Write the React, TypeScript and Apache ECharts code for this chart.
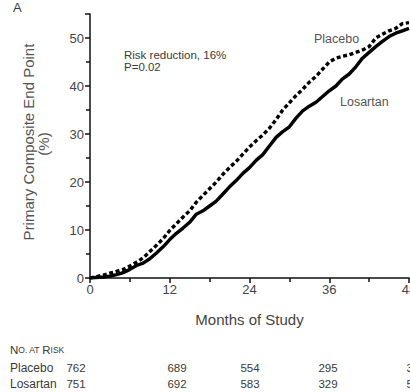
import React, { useEffect, useRef } from "react";
import * as echarts from "echarts";

const months: number[] = [
  0, 1, 2, 3, 4, 5, 6, 7, 8, 9, 10, 11, 12, 13, 14, 15, 16, 17, 18, 19, 20, 21, 22, 23, 24,
  25, 26, 27, 28, 29, 30, 31, 32, 33, 34, 35, 36, 37, 38, 39, 40, 41, 42, 43, 44, 45, 46, 47, 48,
];
const placebo: number[] = [
  0, 0.3, 0.6, 1.0, 1.4, 1.8, 2.5, 3.3, 4.2, 5.5, 6.8, 8.2, 9.9, 11.3, 12.7, 14.0, 15.8, 17.2,
  18.6, 20.0, 21.6, 23.0, 24.3, 25.8, 27.3, 28.6, 29.8, 31.2, 33.0, 35.0, 36.5, 38.0, 39.3,
  40.8, 42.0, 43.5, 45.0, 45.8, 46.2, 46.5, 47.0, 47.5, 48.2, 50.0, 50.8, 51.5, 52.0, 53.0, 53.2,
];
const losartan: number[] = [
  0, 0.1, 0.2, 0.4, 0.7, 1.1, 1.8, 2.6, 3.1, 4.0, 5.2, 6.5, 8.0, 9.3, 10.4, 11.6, 13.3, 14.0,
  15.0, 16.0, 17.5, 19.0, 20.3, 21.8, 23.0, 24.5, 25.7, 27.5, 29.3, 30.5, 31.5, 33.3, 34.8,
  35.8, 36.6, 37.8, 39.0, 40.0, 41.5, 42.5, 44.0, 45.8, 47.0, 48.2, 49.3, 50.3, 51.0, 51.5, 52.0,
];
const riskNames: string[] = ["Placebo", "Losartan"];
const riskPlacebo: string[] = ["762", "689", "554", "295", "36"];
const riskLosartan: string[] = ["751", "692", "583", "329", "52"];
const riskColumnsX: number[] = [76, 177, 250, 328, 413];

const FONT = "'Liberation Sans', Arial, Helvetica, sans-serif";
const TXT = "#3a3a3a";

export default function App() {
  const ref = useRef<HTMLDivElement>(null);
  useEffect(() => {
    if (!ref.current) return;
    const chart = echarts.init(ref.current, null, { renderer: "svg" });
    const graphics: any[] = [
      { type: "text", left: 13, top: 1, style: { text: "A", font: `13px ${FONT}`, fill: TXT } },
      {
        type: "text",
        x: 28,
        y: 142,
        rotation: Math.PI / 2,
        style: {
          text: "Primary Composite End Point",
          font: `15px ${FONT}`,
          fill: "#555",
          textAlign: "center",
          textVerticalAlign: "middle",
        },
      },
      {
        type: "text",
        x: 43,
        y: 144,
        rotation: Math.PI / 2,
        style: { text: "(%)", font: `15px ${FONT}`, fill: "#555", textAlign: "center", textVerticalAlign: "middle" },
      },
      {
        type: "text",
        x: 124,
        y: 49,
        style: { text: "Risk reduction, 16%\nP=0.02", font: `11.5px ${FONT}`, fill: TXT, lineHeight: 12 },
      },
      { type: "text", x: 314, y: 32, style: { text: "Placebo", font: `12.5px ${FONT}`, fill: "#555" } },
      { type: "text", x: 340, y: 95, style: { text: "Losartan", font: `12.5px ${FONT}`, fill: "#555" } },
      {
        type: "text",
        x: 10,
        y: 344,
        style: {
          text: "{a|N}{b|O. AT }{a|R}{b|ISK}",
          rich: {
            a: { font: `11.5px ${FONT}`, fill: TXT },
            b: { font: `8.5px ${FONT}`, fill: TXT },
          },
        },
      },
    ];
    const rows = [riskPlacebo, riskLosartan];
    rows.forEach((row, ri) => {
      const y = 368 + ri * 16;
      graphics.push({
        type: "text",
        x: 10,
        y,
        style: { text: riskNames[ri], font: `12px ${FONT}`, fill: TXT, textVerticalAlign: "middle" },
      });
      row.forEach((v, ci) => {
        graphics.push({
          type: "text",
          x: riskColumnsX[ci],
          y,
          style: { text: v, font: `11.5px ${FONT}`, fill: TXT, textAlign: "center", textVerticalAlign: "middle" },
        });
      });
    });

    chart.setOption({
      animation: false,
      grid: { left: 90, right: 1, top: 14, bottom: 114, containLabel: false, outerBoundsMode: "none" },
      xAxis: {
        type: "value",
        min: 0,
        max: 48,
        interval: 12,
        name: "Months of Study",
        nameLocation: "middle",
        nameGap: 34,
        nameTextStyle: { fontFamily: FONT, fontSize: 15, color: "#444" },
        axisLine: { lineStyle: { color: "#111", width: 1.5 } },
        axisTick: { length: 5, lineStyle: { color: "#111", width: 1.5 } },
        minorTick: { show: true, splitNumber: 2, length: 4, lineStyle: { color: "#111", width: 1.5 } },
        axisLabel: { fontFamily: FONT, fontSize: 13, color: "#444", margin: 5 },
        splitLine: { show: false },
      },
      yAxis: {
        type: "value",
        min: 0,
        max: 55,
        interval: 10,
        axisLine: { show: true, lineStyle: { color: "#111", width: 1.5 } },
        axisTick: { show: true, length: 5, lineStyle: { color: "#111", width: 1.5 } },
        minorTick: { show: true, splitNumber: 2, length: 4, lineStyle: { color: "#111", width: 1.5 } },
        axisLabel: {
          fontFamily: FONT,
          fontSize: 13,
          color: "#444",
          margin: 6,
          formatter: (v: number) => (v > 50 ? "" : String(v)),
        },
        splitLine: { show: false },
      },
      series: [
        {
          name: "Placebo",
          type: "line",
          data: months.map((m, i) => [m, placebo[i]]),
          showSymbol: false,
          symbol: "none",
          lineStyle: { color: "#000", width: 3.4, type: [4, 2.6], cap: "butt" },
        },
        {
          name: "Losartan",
          type: "line",
          data: months.map((m, i) => [m, losartan[i]]),
          showSymbol: false,
          symbol: "none",
          lineStyle: { color: "#000", width: 3.4 },
        },
      ],
      graphic: graphics,
    });
    return () => chart.dispose();
  }, []);
  return (
    <div
      ref={ref}
      style={{ position: "fixed", left: 0, top: 0, width: 410, height: 392, background: "#fff" }}
    />
  );
}
